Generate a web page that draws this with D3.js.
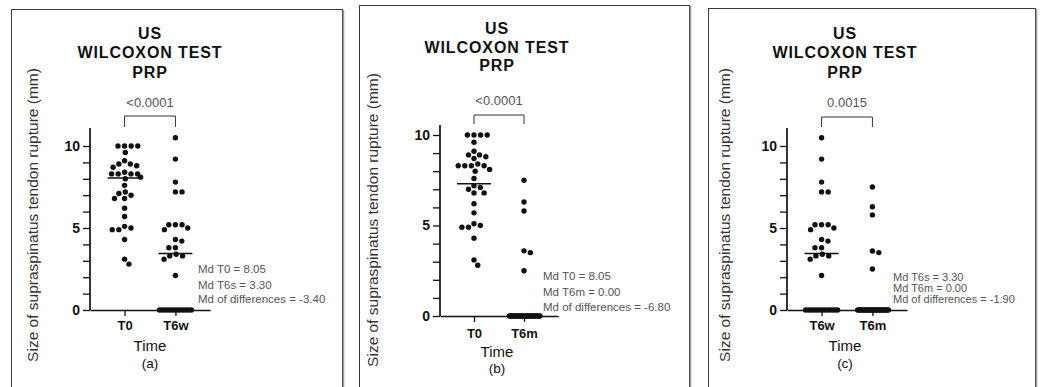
<!DOCTYPE html>
<html>
<head>
<meta charset="utf-8">
<script src="https://cdn.jsdelivr.net/npm/d3@7"></script>
<style>
  body { margin: 0; background: #fff; }
  svg { display: block; font-family: 'Liberation Sans', Arial, sans-serif; }
</style>
</head>
<body>
<svg id="chart" width="1043" height="387"></svg>
<script>
// values (mm)
const t0Values = [10, 10, 10, 10, 9.6, 9.1, 8.9, 8.9, 8.8, 8.7, 8.4, 8.3, 8.3, 8.3, 8.3, 8.1,
  8.0, 7.6, 7.2, 7.1, 7.0, 6.8, 6.8, 6.2, 5.7, 5.1, 5.0, 4.9, 4.9, 4.3, 3.1, 2.8]
const t6wValues = [10.5, 9.2, 7.8, 7.2, 7.2, 5.2, 5.2, 5.2, 5.0, 4.9, 4.3, 4.2, 3.8, 3.8, 3.4, 3.3,
  3.3, 3.1, 2.1, 0, 0, 0, 0, 0, 0, 0, 0, 0, 0, 0, 0, 0]
const t6mValues = [7.5, 6.3, 5.8, 3.6, 3.5, 2.5, 0, 0, 0, 0, 0, 0, 0, 0, 0, 0, 0, 0, 0, 0,
  0, 0, 0, 0, 0, 0, 0, 0, 0, 0, 0, 0]

const titleLines = ['US', 'WILCOXON TEST', 'PRP']
const groupNames = [['T0', 'T6w'], ['T0', 'T6m'], ['T6w', 'T6m']]
const pValueLabels = ['<0.0001', '<0.0001', '0.0015']
const medianLines = [[8.05, 3.45], [7.3, 0], [3.45, 0]]
const summaryLines = [
  ['Md T0 = 8.05', 'Md T6s = 3.30', 'Md of differences = -3.40'],
  ['Md T0 = 8.05', 'Md T6m = 0.00', 'Md of differences = -6.80'],
  ['Md T6s = 3.30', 'Md T6m = 0.00', 'Md of differences = -1.90']
]
const panelLetters = ['(a)', '(b)', '(c)']
const yTickValues = d3.range(0, 11)
const yLabel = 'Size of supraspinatus tendon rupture (mm)'
const xLabel = 'Time'

const seriesByName = { T0: t0Values, T6w: t6wValues, T6m: t6mValues }

// layout of the three framed panels
const layouts = [
  { fx: 11, fy: 9, fw: 331, ax0: 90, ax1: 210, y0: 310, ppu: 16.4, yMax: 11.1, cx: 150,
    titleY: [38.5, 57.5, 77.5], pY: 106.5, br: [116, 127], annX: 198, annY: [273, 289, 303],
    xlY: 329.5, timeY: 351, letterY: 368, ylX: 33, ylY: 215, annSize: 11.5 },
  { fx: 359, fy: 5, fw: 330, ax0: 440, ax1: 558, y0: 316, ppu: 18.1, yMax: 10.55, cx: 497,
    titleY: [33.5, 52.5, 70.5], pY: 104.5, br: [115, 124], annX: 543, annY: [280, 296, 311],
    xlY: 337.5, timeY: 357, letterY: 373, ylX: 373, ylY: 220, annSize: 11.5 },
  { fx: 708, fy: 8, fw: 327, ax0: 787, ax1: 907, y0: 310, ppu: 16.4, yMax: 11.1, cx: 845,
    titleY: [38.5, 57.5, 77.5], pY: 106.5, br: [117, 127], annX: 893, annY: [281, 292, 303],
    xlY: 329.5, timeY: 351, letterY: 368, ylX: 725, ylY: 215, annSize: 11 }
]

const dotR = 2.7
const dotGap = 6.6
const maxHalf = 16

// simple beeswarm: closest free offset to the centre, equal-value rows squeezed to maxHalf
const swarm = (values, y) => {
  const pts = values.map((v) => ({ v, y: y(v), x: 0 })).sort((a, b) => b.v - a.v)
  const placed = []
  pts.forEach((p) => {
    const cands = [0]
    placed.forEach((q) => {
      const dy = Math.abs(q.y - p.y)
      if (dy < dotGap) {
        const dx = Math.sqrt(dotGap * dotGap - dy * dy)
        cands.push(q.x + dx, q.x - dx)
      }
    })
    cands.sort((a, b) => Math.abs(a) - Math.abs(b) || b - a)
    p.x = cands.find((c) => placed.every((q) => (q.x - c) ** 2 + (q.y - p.y) ** 2 >= dotGap * dotGap - 0.01))
    placed.push(p)
  })
  d3.group(pts, (d) => d.v).forEach((g) => {
    const m = d3.max(g, (d) => Math.abs(d.x))
    if (m > maxHalf) g.forEach((d) => { d.x *= maxHalf / m })
  })
  return pts
}

const svg = d3.select('#chart')

layouts.forEach((L, i) => {
  const g = svg.append('g').classed('panel', true)

  // frame
  g.append('rect')
    .attr('x', L.fx + 0.5).attr('y', L.fy + 0.5)
    .attr('width', L.fw).attr('height', 420)
    .attr('fill', 'none').attr('stroke', '#3a3a3a').attr('stroke-width', 1)
  g.append('line')
    .attr('x1', L.fx + L.fw + 1.5).attr('x2', L.fx + L.fw + 1.5)
    .attr('y1', L.fy + 1).attr('y2', 400)
    .attr('stroke', '#9a9a9a').attr('stroke-width', 1.5)

  const names = groupNames[i]
  const x = d3.scalePoint().domain(names).range([L.ax0, L.ax1]).padding(0.68)
  const y = d3.scaleLinear().domain([0, L.yMax]).range([L.y0, L.y0 - L.yMax * L.ppu])

  // title
  g.append('text')
    .attr('text-anchor', 'middle')
    .attr('font-size', 16).attr('font-weight', 'bold').attr('letter-spacing', 0.9)
    .attr('fill', '#111')
    .selectAll('tspan')
    .data(titleLines)
    .enter()
    .append('tspan')
    .attr('x', L.cx)
    .attr('y', (d, k) => L.titleY[k])
    .text((d) => d)

  // significance bracket
  g.append('text')
    .attr('x', (x(names[0]) + x(names[1])) / 2).attr('y', L.pY)
    .attr('text-anchor', 'middle').attr('font-size', 13).attr('fill', '#555')
    .text(pValueLabels[i])
  g.append('path')
    .attr('d', `M${x(names[0])},${L.br[1]}V${L.br[0]}H${x(names[1])}V${L.br[1]}`)
    .attr('fill', 'none').attr('stroke', '#333').attr('stroke-width', 1)

  // axes
  const yAxis = d3.axisLeft(y)
    .tickValues(yTickValues)
    .tickSize(7).tickSizeOuter(0).tickPadding(3)
    .tickFormat((d) => (d % 5 === 0 ? d : ''))
  const yg = g.append('g')
    .attr('transform', `translate(${L.ax0},0)`)
    .call(yAxis)
  yg.select('path.domain')
    .attr('d', `M0,${y(0)}V${y(L.yMax)}`)
  const xAxis = d3.axisBottom(x).tickSize(6).tickSizeOuter(0).tickPadding(5)
  const xg = g.append('g')
    .attr('transform', `translate(0,${L.y0})`)
    .call(xAxis)
  g.selectAll('.domain').attr('stroke', '#111').attr('stroke-width', 1.7)
  g.selectAll('.tick line').attr('stroke', '#111').attr('stroke-width', 1.3)
  yg.selectAll('.tick text')
    .attr('font-size', 14).attr('font-weight', 'bold').attr('fill', '#111')
  xg.selectAll('.tick text')
    .attr('font-size', 13).attr('font-weight', 'bold').attr('fill', '#111')
    .attr('dy', null)
    .attr('y', L.xlY - L.y0)
  yg.attr('font-family', null)
  xg.attr('font-family', null)

  // points
  names.forEach((name, k) => {
    const pts = swarm(seriesByName[name], y)
    g.append('g')
      .classed('points', true)
      .selectAll('circle')
      .data(pts)
      .enter()
      .append('circle')
      .attr('cx', (d) => x(name) + d.x)
      .attr('cy', (d) => d.y)
      .attr('r', dotR)
      .attr('fill', '#111')
    g.append('line')
      .classed('median', true)
      .attr('x1', x(name) - 17).attr('x2', x(name) + 17)
      .attr('y1', y(medianLines[i][k])).attr('y2', y(medianLines[i][k]))
      .attr('stroke', '#111').attr('stroke-width', 1.5)
  })

  // summary text
  g.append('g')
    .selectAll('text')
    .data(summaryLines[i])
    .enter()
    .append('text')
    .attr('x', L.annX)
    .attr('y', (d, k) => L.annY[k])
    .attr('font-size', L.annSize).attr('fill', '#555')
    .text((d) => d)

  // axis titles
  g.append('text')
    .attr('x', L.cx).attr('y', L.timeY)
    .attr('text-anchor', 'middle').attr('font-size', 15).attr('fill', '#111')
    .text(xLabel)
  g.append('text')
    .attr('x', L.cx).attr('y', L.letterY)
    .attr('text-anchor', 'middle').attr('font-size', 13.5).attr('fill', '#111')
    .text(panelLetters[i])
  g.append('text')
    .attr('transform', `translate(${L.ylX + 5},${L.ylY}) rotate(-90)`)
    .attr('text-anchor', 'middle').attr('font-size', 15.5).attr('fill', '#333')
    .text(yLabel)
})
</script>
</body>
</html>
